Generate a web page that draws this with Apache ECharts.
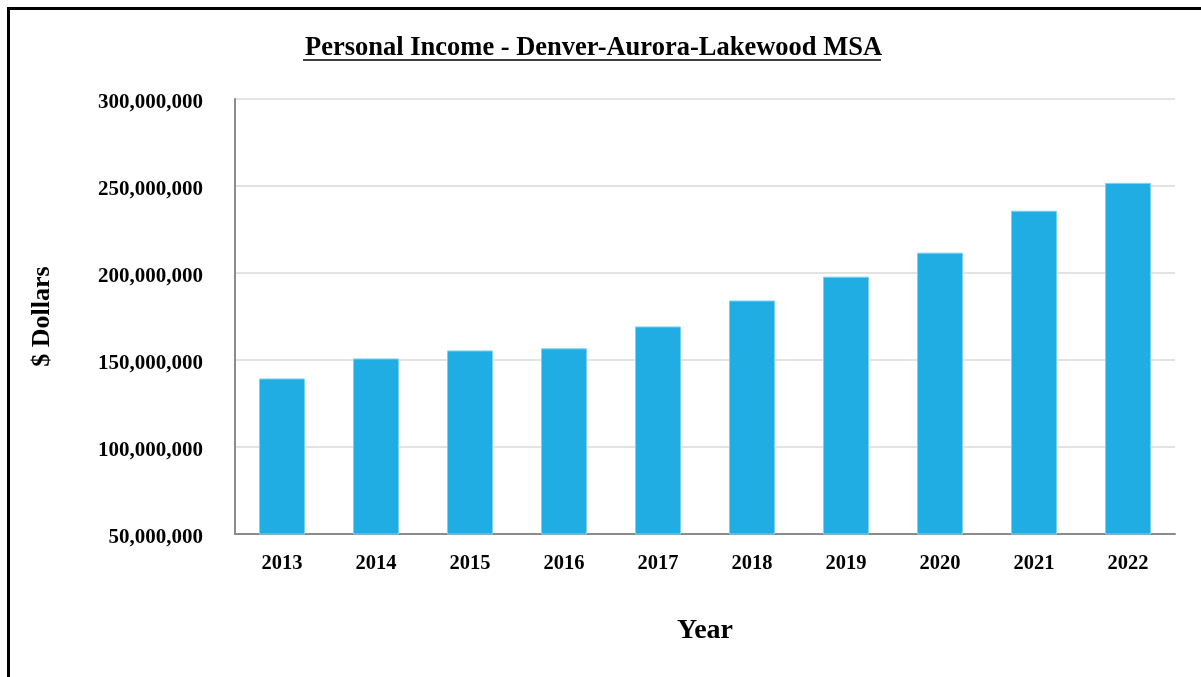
<!DOCTYPE html>
<html>
<head>
<meta charset="utf-8">
<script src="https://cdn.jsdelivr.net/npm/echarts@6/dist/echarts.min.js"></script>
<style>
  html, body { margin: 0; padding: 0; background: #fff; overflow: hidden; }
  #frame {
    position: absolute; left: 7px; top: 7px; width: 1300px; height: 800px;
    border: 3px solid #000; box-sizing: border-box;
  }
  #chart { position: absolute; left: 0; top: 0; width: 1201px; height: 677px; }
</style>
</head>
<body>
<div id="frame"></div>
<div id="chart"></div>
<script>
// data
const years = ['2013', '2014', '2015', '2016', '2017', '2018', '2019', '2020', '2021', '2022']
const income = [139400000, 150900000, 155500000, 156700000, 169300000, 184200000, 197900000, 211700000, 235800000, 251800000]
const yMin = 50000000
const yMax = 300000000
const yStep = 50000000

const serif = '"Liberation Serif", "Times New Roman", serif'
const chart = echarts.init(document.getElementById('chart'))

const option = {
  animation: false,
  title: {
    text: 'Personal Income - Denver-Aurora-Lakewood MSA',
    left: 300,
    top: 30,
    textStyle: { fontFamily: serif, fontWeight: 'bold', fontSize: 26.5, color: '#000' }
  },
  grid: { left: 235, right: 26, top: 99, bottom: 143 },
  xAxis: {
    type: 'category',
    data: years,
    name: 'Year',
    nameLocation: 'middle',
    nameGap: 83,
    nameTextStyle: { fontFamily: serif, fontWeight: 'bold', fontSize: 28, color: '#000' },
    axisLine: { lineStyle: { color: '#8c8c8c', width: 2 } },
    axisTick: { show: false },
    axisLabel: { fontFamily: serif, fontWeight: 'bold', fontSize: 20.5, color: '#000', margin: 19 }
  },
  yAxis: {
    type: 'value',
    min: yMin,
    max: yMax,
    interval: yStep,
    name: '$ Dollars',
    nameLocation: 'middle',
    nameRotate: 90,
    nameGap: 180,
    nameTextStyle: { fontFamily: serif, fontWeight: 'bold', fontSize: 26, color: '#000' },
    axisLine: { show: true, lineStyle: { color: '#8c8c8c', width: 2 } },
    axisTick: { show: false },
    splitLine: { lineStyle: { color: '#e3e3e3', width: 2 } },
    axisLabel: {
      color: '#000', margin: 32,
      formatter: v => '{t|' + v.toLocaleString('en-US') + '}',
      rich: {
        t: { fontFamily: serif, fontWeight: 'bold', fontSize: 21, color: '#000', padding: [7, 0, 0, 0] }
      }
    }
  },
  graphic: [
    {
      // underline of the title
      type: 'line',
      shape: { x1: 303, y1: 60, x2: 881, y2: 60 },
      style: { stroke: '#000', lineWidth: 1.5 }
    }
  ],
  series: [
    {
      type: 'bar',
      data: income,
      barWidth: '49%',
      itemStyle: { color: '#1fade3', borderColor: '#7fd2f2', borderWidth: 1 }
    }
  ]
}

chart.setOption(option)
</script>
</body>
</html>
